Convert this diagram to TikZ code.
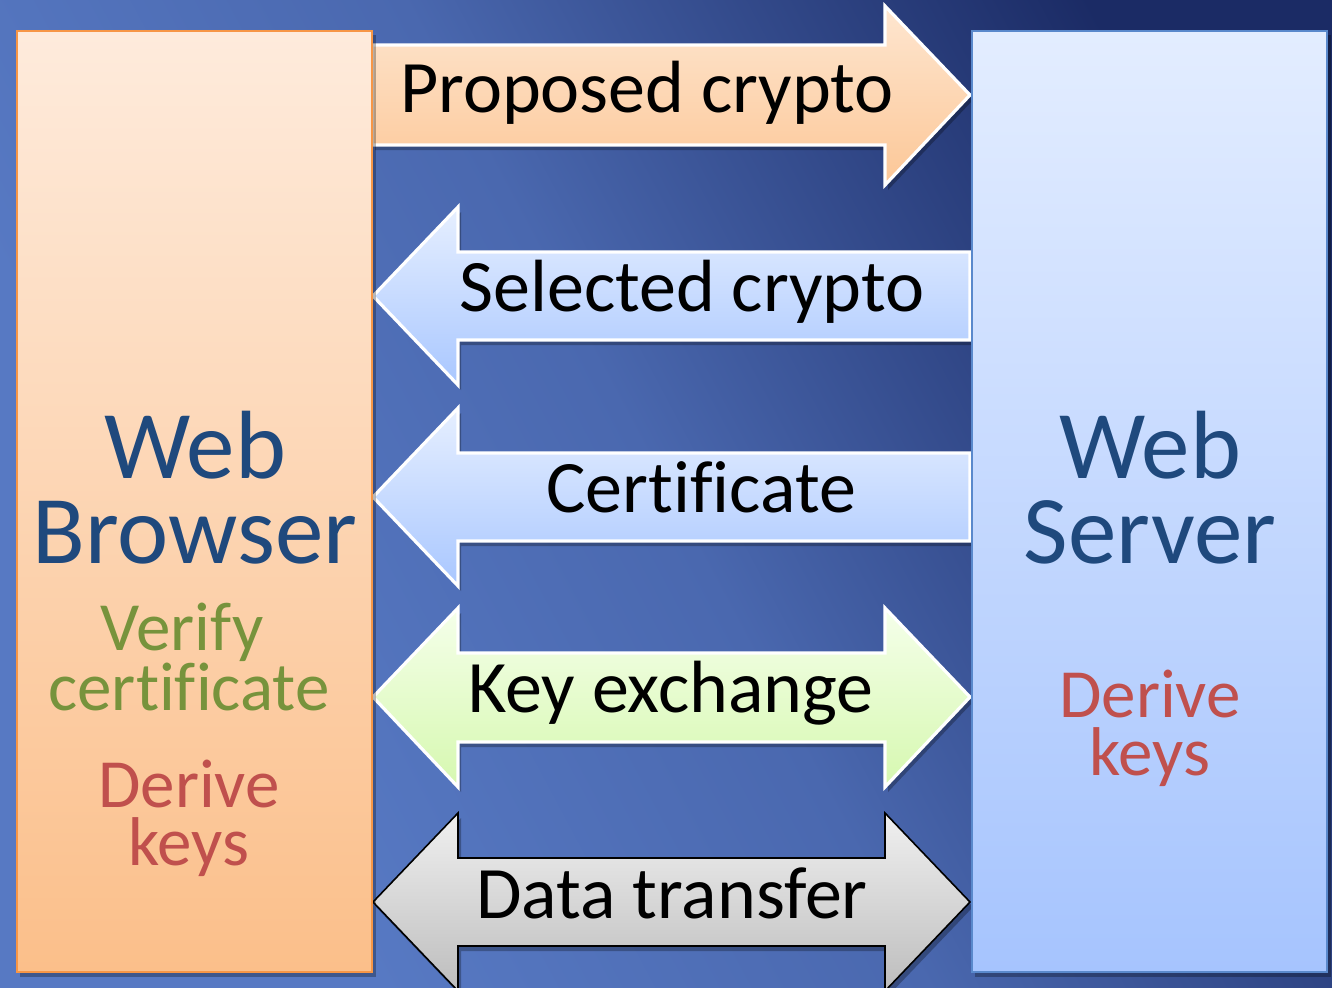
\documentclass[tikz,border=0pt]{standalone}
\usepackage{fontspec}
\setmainfont{Carlito}[Ligatures=NoCommon]
\definecolor{bgL}{HTML}{5779C3}
\definecolor{bgM}{HTML}{4A68AF}
\definecolor{bgD}{HTML}{1B2B65}
\definecolor{orTop}{HTML}{FEEBDC}
\definecolor{orBot}{HTML}{FBBF8A}
\definecolor{orLine}{HTML}{F79646}
\definecolor{blTop}{HTML}{E3EDFF}
\definecolor{blBot}{HTML}{A6C4FE}
\definecolor{blLine}{HTML}{5A89CC}
\definecolor{peTop}{HTML}{FEE6D0}
\definecolor{peBot}{HTML}{FCC797}
\definecolor{skTop}{HTML}{E6EFFF}
\definecolor{skBot}{HTML}{A9C7FF}
\definecolor{grTop}{HTML}{F5FFEA}
\definecolor{grBot}{HTML}{D6F8B0}
\definecolor{gyTop}{HTML}{F0F0F0}
\definecolor{gyBot}{HTML}{BDBDBD}
\definecolor{titleblue}{HTML}{1F497D}
\definecolor{olive}{HTML}{77933C}
\definecolor{brick}{HTML}{C0504D}
\pgfdeclarehorizontalshading{bgshade}{100bp}{color(0bp)=(bgL); color(30bp)=(bgL); color(50bp)=(bgM); color(75bp)=(bgD); color(100bp)=(bgD)}
\tikzset{
  shadowfill/.style={fill=black, opacity=0.28},
  peacharrow/.style={top color=peTop, bottom color=peBot, draw=white, line width=1.6pt, line join=miter},
  skyarrow/.style={top color=skTop, bottom color=skBot, draw=white, line width=1.6pt, line join=miter},
  greenarrow/.style={top color=grTop, bottom color=grBot, draw=white, line width=1.6pt, line join=miter},
  greyarrow/.style={top color=gyTop, bottom color=gyBot, draw=black, line width=0.8pt, line join=miter},
  arrowtext/.style={inner sep=0pt, anchor=base, text=black, font=\fontsize{37}{40}\selectfont},
  bigtitle/.style={inner sep=0pt, anchor=base, text=titleblue, font=\fontsize{48.5}{42.5}\selectfont},
  subtitle/.style={inner sep=0pt, anchor=base, font=\fontsize{34.5}{30}\selectfont},
}
\begin{document}
\begin{tikzpicture}[x=0.5pt,y=-0.5pt]
\useasboundingbox (0,0) rectangle (1332,987);
\clip (0,0) rectangle (1332,987);
% backdrop
\shade[shading=bgshade, shading angle=28] (0,0) rectangle (1332,987);

% soft drop shadows under the arrows
\begin{scope}[shift={(3,5)}]
  \fill[shadowfill] (372,45) -- (885,45) -- (885,6) -- (970,95) -- (885,185) -- (885,145) -- (372,145) -- cycle;
  \fill[shadowfill] (970,252) -- (458,252) -- (458,207) -- (373,296) -- (458,385) -- (458,340) -- (970,340) -- cycle;
  \fill[shadowfill] (970,453) -- (458,453) -- (458,408) -- (373,497) -- (458,586) -- (458,541) -- (970,541) -- cycle;
  \fill[shadowfill] (373,697) -- (458,608) -- (458,653) -- (885,653) -- (885,608) -- (970,697) -- (885,787) -- (885,742) -- (458,742) -- (458,787) -- cycle;
  \fill[shadowfill] (373,902) -- (458,813) -- (458,858) -- (885,858) -- (885,813) -- (970,902) -- (885,991) -- (885,946) -- (458,946) -- (458,991) -- cycle;
\end{scope}

% message arrows
\shadedraw[peacharrow] (372,45) -- (885,45) -- (885,6) -- (970,95) -- (885,185) -- (885,145) -- (372,145) -- cycle;
\shadedraw[skyarrow] (970,252) -- (458,252) -- (458,207) -- (373,296) -- (458,385) -- (458,340) -- (970,340) -- cycle;
\shadedraw[skyarrow] (970,453) -- (458,453) -- (458,408) -- (373,497) -- (458,586) -- (458,541) -- (970,541) -- cycle;
\shadedraw[greenarrow] (373,697) -- (458,608) -- (458,653) -- (885,653) -- (885,608) -- (970,697) -- (885,787) -- (885,742) -- (458,742) -- (458,787) -- cycle;
\shadedraw[greyarrow] (373,902) -- (458,813) -- (458,858) -- (885,858) -- (885,813) -- (970,902) -- (885,991) -- (885,946) -- (458,946) -- (458,991) -- cycle;

% the two endpoints
\fill[shadowfill] (20,35) rectangle (376,977);
\fill[shadowfill] (975,35) rectangle (1331,977);
\shadedraw[top color=orTop, bottom color=orBot, draw=orLine, line width=1.4pt] (17,31) rectangle (372,972);
\shadedraw[top color=blTop, bottom color=blBot, draw=blLine, line width=1.4pt] (972,31) rectangle (1327,972);

% arrow labels
\node[arrowtext] (proposed) at (647,112) {Proposed crypto};
\node[arrowtext] (selected) at (692,311) {Selected crypto};
\node[arrowtext] (certificate) at (701,512) {Certificate};
\node[arrowtext] (keyexchange) at (671,712) {Key exchange};
\node[arrowtext] (datatransfer) at (672,918) {Data transfer};

% browser side
\node[bigtitle] (webL) at (195,478) {Web};
\node[bigtitle] (browser) at (195,563) {Browser};
\node[subtitle, text=olive] (verify) at (182,650) {Verify};
\node[subtitle, text=olive] (certify) at (189,710) {certificate};
\node[subtitle, text=brick] (deriveL) at (189,807) {Derive};
\node[subtitle, text=brick] (keysL) at (189,865) {keys};

% server side
\node[bigtitle] (webR) at (1150,478) {Web};
\node[bigtitle] (server) at (1150,563) {Server};
\node[subtitle, text=brick] (deriveR) at (1150,717) {Derive};
\node[subtitle, text=brick] (keysR) at (1150,775) {keys};
\end{tikzpicture}
\end{document}
